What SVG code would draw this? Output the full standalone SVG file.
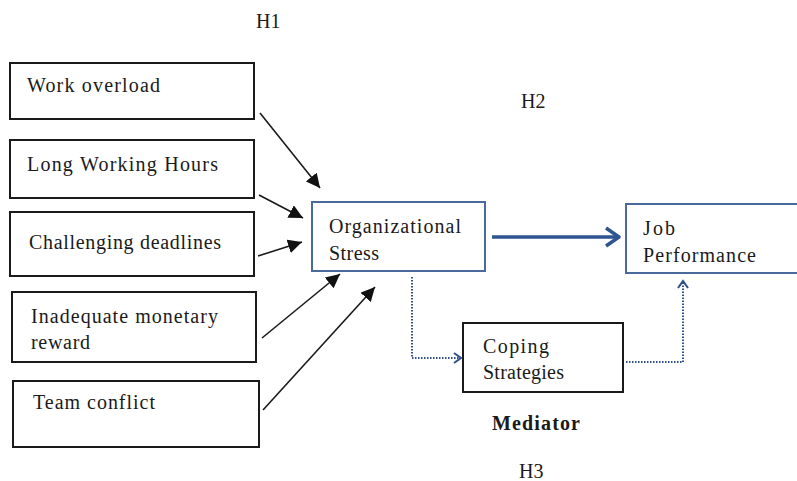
<svg xmlns="http://www.w3.org/2000/svg" width="797" height="481" viewBox="0 0 797 481">
<style>
text{font-family:"Liberation Serif","Times New Roman",serif;font-size:20px;fill:#1a1a1a}
.bb{fill:#fff;stroke:#1a1a1a;stroke-width:2}
.ub{fill:#fff;stroke:#4a6a9e;stroke-width:2}
.ba{stroke:#1a1a1a;stroke-width:1.6;fill:none;marker-end:url(#ah)}
.dot{stroke:#2f4f8a;stroke-width:2;stroke-dasharray:1.5 1.5;fill:none}
</style>
<defs>
<marker id="ah" markerUnits="userSpaceOnUse" markerWidth="16" markerHeight="14" refX="14" refY="7" orient="auto">
<path d="M0,0 L14,7 L0,14 Z" fill="#111"/>
</marker>
</defs>
<rect width="797" height="481" fill="#fff"/>
<text x="256" y="28">H1</text>
<text x="521" y="108">H2</text>
<text x="492" y="430" font-weight="bold" font-size="19" textLength="88">Mediator</text>
<text x="519" y="478">H3</text>
<g id="n-work"><rect class="bb" x="10" y="63" width="244" height="56"/><text x="27" y="92" textLength="133">Work overload</text></g>
<g id="n-long"><rect class="bb" x="10" y="140" width="244" height="58"/><text x="27" y="171" textLength="191">Long Working Hours</text></g>
<g id="n-chal"><rect class="bb" x="10" y="212" width="244" height="64"/><text x="29" y="249" textLength="192">Challenging deadlines</text></g>
<g id="n-inad"><rect class="bb" x="12" y="292" width="244" height="70"/><text x="31" y="323" textLength="187">Inadequate monetary</text><text x="31" y="349" textLength="59">reward</text></g>
<g id="n-team"><rect class="bb" x="13" y="381" width="246" height="66"/><text x="33" y="409" textLength="122">Team conflict</text></g>
<g id="n-org"><rect class="ub" x="312" y="202" width="173" height="69"/><text x="329" y="233" textLength="132">Organizational</text><text x="329" y="260" textLength="50">Stress</text></g>
<g id="n-job"><rect class="ub" x="626" y="204" width="180" height="69"/><text x="643" y="235" textLength="32">Job</text><text x="643" y="262" textLength="113">Performance</text></g>
<g id="n-cop"><rect class="bb" x="463" y="323" width="160" height="69"/><text x="483" y="353" textLength="66">Coping</text><text x="483" y="379" textLength="81">Strategies</text></g>
<g id="connectors">
<line class="ba" x1="260" y1="113" x2="320" y2="188"/>
<line class="ba" x1="259" y1="195" x2="303" y2="218"/>
<line class="ba" x1="258" y1="256" x2="302" y2="242"/>
<line class="ba" x1="262" y1="338" x2="340" y2="274"/>
<line class="ba" x1="263" y1="410" x2="375" y2="287"/>
<line x1="492" y1="237" x2="618" y2="237" stroke="#2e5590" stroke-width="3.5"/>
<path d="M606,228 L619,237 L606,246" fill="none" stroke="#2e5590" stroke-width="3.5" stroke-linejoin="round"/>
<path class="dot" d="M412,277 L412,358 L460,358"/>
<path d="M454,353 L461,358 L454,363" fill="none" stroke="#2f4f8a" stroke-width="2"/>
<path class="dot" d="M626,362 L683,362 L683,282"/>
<path d="M678,288 L683,281 L688,288" fill="none" stroke="#2f4f8a" stroke-width="2"/>
</g>
</svg>
